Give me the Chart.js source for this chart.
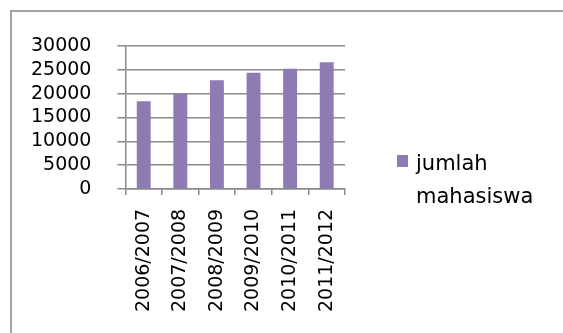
<!DOCTYPE html>
<html>
<head>
<meta charset="utf-8">
<script src="https://cdn.jsdelivr.net/npm/chart.js@4"></script>
<style>
    html, body { margin: 0; padding: 0; background: #fff; }
    #wrap { position: relative; width: 563px; height: 333px; overflow: hidden; }
    #frame { position: absolute; left: 10px; top: 10px; width: 600px; height: 400px;
             border-left: 2px solid #a3a3a3; border-top: 2px solid #a3a3a3; }
    canvas { position: absolute; left: 0; top: 0; }
</style>
</head>
<body>
<div id="wrap">
    <div id="frame"></div>
    <canvas id="chart" width="563" height="333"></canvas>
</div>
<script>
const categories = ['2006/2007', '2007/2008', '2008/2009', '2009/2010', '2010/2011', '2011/2012'];
const jumlahMahasiswa = [18400, 20050, 22800, 24400, 25200, 26600];
const seriesLabel = ['jumlah', 'mahasiswa'];
const yTicks = [0, 5000, 10000, 15000, 20000, 25000, 30000];

const FONT = 'DejaVu Sans';
const barColor = '#8f7bb3';
const gridColor = '#8a8a8a';

// legend sits to the right of the plot, label wraps on two lines
const sideLegend = {
    id: 'sideLegend',
    afterDraw(chart) {
        const ctx = chart.ctx;
        ctx.save();
        ctx.fillStyle = barColor;
        ctx.fillRect(397, 155, 11, 12);
        ctx.fillStyle = '#000';
        ctx.font = '21px "' + FONT + '"';
        ctx.textBaseline = 'alphabetic';
        seriesLabel.forEach((line, i) => ctx.fillText(line, 416, 170 + i * 33));
        ctx.restore();
    }
};

new Chart(document.getElementById('chart'), {
    type: 'bar',
    data: {
        labels: categories,
        datasets: [{
            label: seriesLabel.join(' '),
            data: jumlahMahasiswa,
            backgroundColor: barColor,
            categoryPercentage: 1,
            barPercentage: 0.38
        }]
    },
    options: {
        responsive: false,
        animation: false,
        devicePixelRatio: 1,
        layout: { padding: { left: 5, right: 218, top: 46, bottom: 7 } },
        plugins: { legend: { display: false }, tooltip: { enabled: false } },
        scales: {
            x: {
                grid: { offset: true, drawOnChartArea: false, drawTicks: true, tickLength: 6, color: gridColor, lineWidth: 1.5 },
                border: { color: gridColor, width: 1.5 },
                ticks: { color: '#000', font: { family: FONT, size: 19 }, minRotation: 90, maxRotation: 90, padding: 14, autoSkip: false }
            },
            y: {
                min: 0,
                max: 30000,
                afterBuildTicks: axis => { axis.ticks = yTicks.map(v => ({ value: v })); },
                grid: { color: gridColor, lineWidth: 1.5, tickLength: 8 },
                border: { color: gridColor, width: 1.5 },
                ticks: { color: '#000', font: { family: FONT, size: 19, lineHeight: 1 }, padding: 26, autoSkip: false, callback: v => String(v) }
            }
        }
    },
    plugins: [sideLegend]
});
</script>
</body>
</html>
